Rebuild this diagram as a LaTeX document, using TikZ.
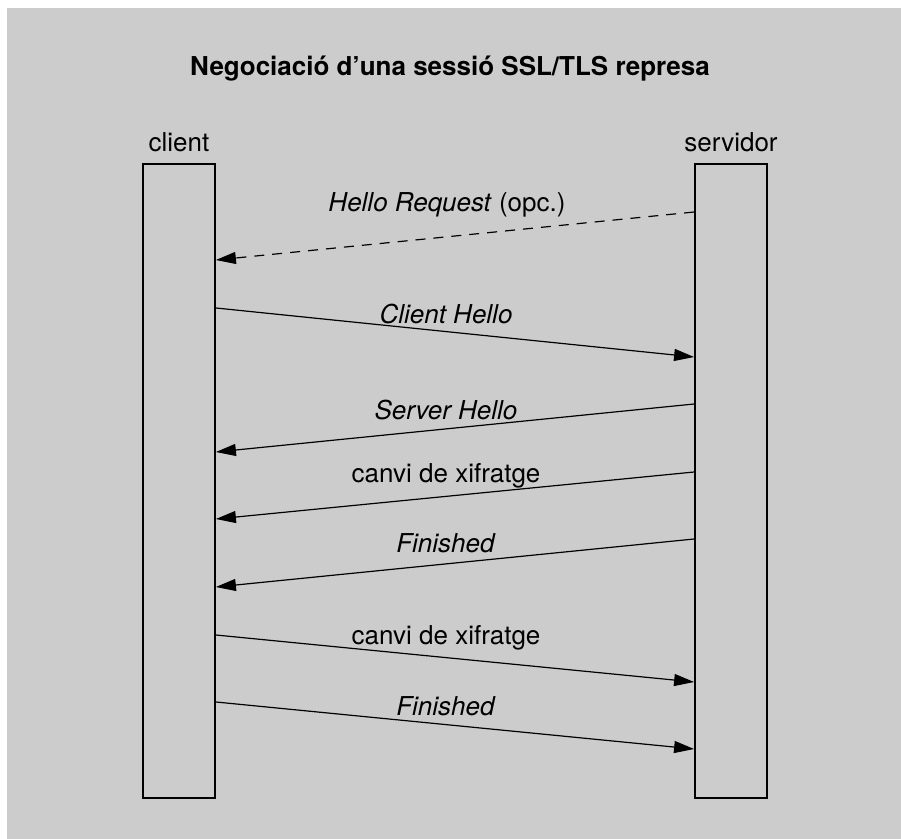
\documentclass[tikz,border=0pt]{standalone}
\usepackage{fontspec}
\setmainfont{TeX Gyre Heros}
\usetikzlibrary{arrows.meta}

\begin{document}
\begin{tikzpicture}[x=0.5pt,y=-0.5pt, every node/.style={font=\fontsize{13}{15}\selectfont},
    lifeline/.style={draw, line width=0.9pt, minimum width=36pt, minimum height=317pt, inner sep=0pt},
    msg/.style={-{Triangle[length=10pt,width=6pt]}, line width=0.6pt}]
  \useasboundingbox (0,0) rectangle (901,839);
  \fill[gray!40] (7,8) rectangle (901,839);
  \node[anchor=base, font=\fontsize{13}{15}\selectfont\bfseries] (title) at (450,76) {Negociació d’una sessió SSL/TLS represa};
  \node[lifeline] (cli) at (179,481) {};
  \node[lifeline] (srv) at (731,481) {};
  \node[anchor=base] (clilbl) at (179,152) {client};
  \node[anchor=base] (srvlbl) at (731,152) {servidor};
  % missatges
  \draw[msg, dash pattern=on 5pt off 4pt] (srv.west |- 0,212) -- (cli.east |- 0,260);
  \node[anchor=base] (req) at (447,212) {\textit{Hello Request} (opc.)};
  \foreach \ya/\yb/\yt/\txt in {308/357/324/\textit{Client Hello},635/682/645/canvi de xifratge,702/749/716/\textit{Finished}} {
    \draw[msg] (cli.east |- 0,\ya) -- (srv.west |- 0,\yb);
    \node[anchor=base] (cs\yt) at (446,\yt) {\txt};
  }
  \foreach \ya/\yb/\yt/\txt in {404/452/420/\textit{Server Hello},472/519/483/canvi de xifratge,539/587/553/\textit{Finished}} {
    \draw[msg] (srv.west |- 0,\ya) -- (cli.east |- 0,\yb);
    \node[anchor=base] (sc\yt) at (446,\yt) {\txt};
  }
\end{tikzpicture}
\end{document}
